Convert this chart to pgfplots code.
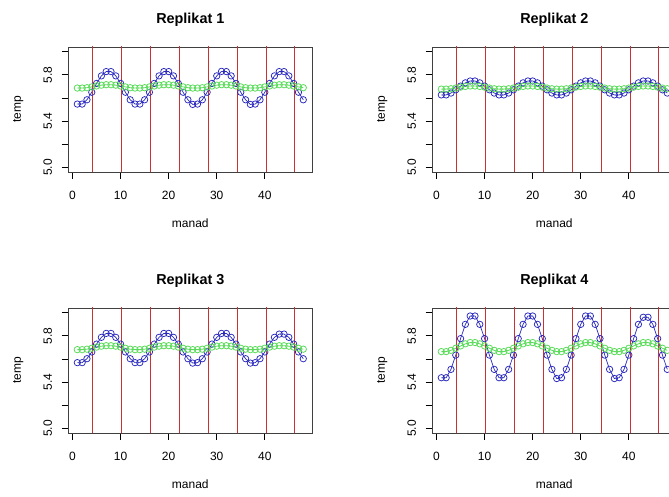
\documentclass[border=0pt]{standalone}
\usepackage{fontspec}
\setmainfont{Liberation Sans}
\usepackage{pgfplots}
\usepackage{pgfplotstable}
\pgfplotsset{compat=1.18}

\pgfplotstableread{
x  b1    g1    b2    g2    b3    g3    b4    g4
1  5.548 5.686 5.627 5.677 5.569 5.681 5.439 5.664
2  5.548 5.686 5.627 5.677 5.569 5.681 5.439 5.664
3  5.585 5.689 5.643 5.680 5.603 5.685 5.511 5.675
4  5.650 5.696 5.671 5.686 5.661 5.693 5.634 5.693
5  5.726 5.704 5.703 5.694 5.729 5.703 5.776 5.713
6  5.791 5.711 5.731 5.700 5.787 5.711 5.899 5.731
7  5.828 5.715 5.747 5.704 5.821 5.715 5.971 5.742
8  5.828 5.715 5.747 5.704 5.821 5.715 5.971 5.742
9  5.791 5.711 5.731 5.700 5.787 5.711 5.899 5.731
10 5.726 5.704 5.703 5.694 5.729 5.703 5.776 5.713
11 5.650 5.696 5.671 5.686 5.661 5.693 5.634 5.693
12 5.585 5.689 5.643 5.680 5.603 5.685 5.511 5.675
13 5.548 5.686 5.627 5.677 5.569 5.681 5.439 5.664
14 5.548 5.686 5.627 5.677 5.569 5.681 5.439 5.664
15 5.585 5.689 5.643 5.680 5.603 5.685 5.511 5.675
16 5.650 5.696 5.671 5.686 5.661 5.693 5.634 5.693
17 5.726 5.704 5.703 5.694 5.729 5.703 5.776 5.713
18 5.791 5.711 5.731 5.700 5.787 5.711 5.899 5.731
19 5.828 5.715 5.747 5.704 5.821 5.715 5.971 5.742
20 5.828 5.715 5.747 5.704 5.821 5.715 5.971 5.742
21 5.791 5.711 5.731 5.700 5.787 5.711 5.899 5.731
22 5.726 5.704 5.703 5.694 5.729 5.703 5.776 5.713
23 5.650 5.696 5.671 5.686 5.661 5.693 5.634 5.693
24 5.585 5.689 5.643 5.680 5.603 5.685 5.511 5.675
25 5.545 5.686 5.627 5.677 5.565 5.681 5.432 5.664
26 5.548 5.686 5.627 5.677 5.569 5.681 5.439 5.664
27 5.585 5.689 5.643 5.680 5.603 5.685 5.511 5.675
28 5.650 5.696 5.671 5.686 5.661 5.693 5.634 5.693
29 5.726 5.704 5.703 5.694 5.729 5.703 5.776 5.713
30 5.791 5.711 5.731 5.700 5.787 5.711 5.899 5.731
31 5.830 5.715 5.747 5.704 5.821 5.715 5.971 5.742
32 5.828 5.715 5.747 5.704 5.821 5.715 5.971 5.742
33 5.791 5.711 5.731 5.700 5.787 5.711 5.899 5.731
34 5.726 5.704 5.703 5.694 5.729 5.703 5.776 5.713
35 5.650 5.696 5.671 5.686 5.661 5.693 5.634 5.693
36 5.585 5.689 5.643 5.680 5.603 5.685 5.511 5.675
37 5.545 5.686 5.627 5.677 5.565 5.681 5.432 5.664
38 5.548 5.686 5.627 5.677 5.569 5.681 5.439 5.664
39 5.585 5.689 5.643 5.680 5.603 5.685 5.511 5.675
40 5.650 5.696 5.671 5.686 5.661 5.693 5.634 5.693
41 5.726 5.704 5.703 5.694 5.729 5.703 5.776 5.713
42 5.791 5.711 5.731 5.700 5.787 5.711 5.899 5.731
43 5.828 5.715 5.747 5.704 5.815 5.715 5.960 5.742
44 5.828 5.715 5.747 5.704 5.815 5.715 5.960 5.742
45 5.791 5.711 5.731 5.700 5.787 5.711 5.899 5.731
46 5.726 5.704 5.703 5.694 5.729 5.703 5.776 5.713
47 5.650 5.696 5.671 5.686 5.661 5.693 5.634 5.693
48 5.585 5.689 5.643 5.680 5.603 5.685 5.511 5.675
}\data

\pgfplotstableread{
vx  yhi
4.25  6.1
10.25 6.1
16.25 6.1
22.25 6.1
28.25 6.1
34.25 6.1
40.25 6.1
46.25 6.1
}\vlines

\definecolor{rblue}{RGB}{40,40,190}
\definecolor{rgreen}{RGB}{90,220,90}
\definecolor{rred}{RGB}{200,50,50}

\pgfplotsset{rpanel/.style={
  scale only axis, width=244pt, height=125.3pt,
  xmin=-0.88, xmax=49.88, ymin=4.96, ymax=6.04,
  xtick={0,10,20,30,40}, ytick={5,5.4,5.8},
  extra y ticks={5.2,5.6,6.0}, extra y tick labels={},
  tick pos=left, tick align=outside, major tick length=6.7pt,
  axis line style={black!75, line width=0.8pt},
  every tick/.style={black, line width=0.8pt},
  every tick label/.append style={font=\fontsize{12}{12}\selectfont},
  xticklabel shift=9pt, yticklabel shift=6pt,
  /pgf/number format/assume math mode=true,
  yticklabel={\pgfmathprintnumber[fixed,fixed zerofill,precision=1]{\tick}},
  yticklabel style={rotate=90, anchor=south},
  xlabel=manad, ylabel=temp,
  label style={font=\fontsize{12}{12}\selectfont},
  xlabel style={at={(axis description cs:0.5,-0.4445)}, anchor=base},
  ylabel style={at={(axis description cs:-0.2049,0.5)}, anchor=center},
  title style={at={(axis description cs:0.5,1.142)}, anchor=base, font=\bfseries\fontsize{14.4}{14.4}\selectfont},
  bser/.style={rblue, line width=0.7pt, mark=o, mark size=3.2pt, mark options={line width=0.75pt}},
  gser/.style={rgreen, line width=0.8pt, mark=o, mark size=3.2pt, mark options={line width=0.8pt}},
  rser/.style={draw=rred, line width=1pt, mark=none, ycomb, forget plot},
}}

\begin{document}
\begin{tikzpicture}
\useasboundingbox (0,0) rectangle (669pt,497pt);
\clip (0,0) rectangle (669pt,497pt);

\begin{axis}[rpanel, at={(68.3pt,324.7pt)}, anchor=south west, title={Replikat 1}]
\addplot[bser] table[x=x,y=b1]{\data};
\addplot[gser] table[x=x,y=g1]{\data};
\addplot[rser] table[x=vx, y=yhi] {\vlines};
\end{axis}

\begin{axis}[rpanel, at={(432.3pt,324.7pt)}, anchor=south west, title={Replikat 2}]
\addplot[bser] table[x=x,y=b2]{\data};
\addplot[gser] table[x=x,y=g2]{\data};
\addplot[rser] table[x=vx, y=yhi] {\vlines};
\end{axis}

\begin{axis}[rpanel, at={(68.3pt,63.7pt)}, anchor=south west, title={Replikat 3}]
\addplot[bser] table[x=x,y=b3]{\data};
\addplot[gser] table[x=x,y=g3]{\data};
\addplot[rser] table[x=vx, y=yhi] {\vlines};
\end{axis}

\begin{axis}[rpanel, at={(432.3pt,63.7pt)}, anchor=south west, title={Replikat 4}]
\addplot[bser] table[x=x,y=b4]{\data};
\addplot[gser] table[x=x,y=g4]{\data};
\addplot[rser] table[x=vx, y=yhi] {\vlines};
\end{axis}
\end{tikzpicture}
\end{document}
